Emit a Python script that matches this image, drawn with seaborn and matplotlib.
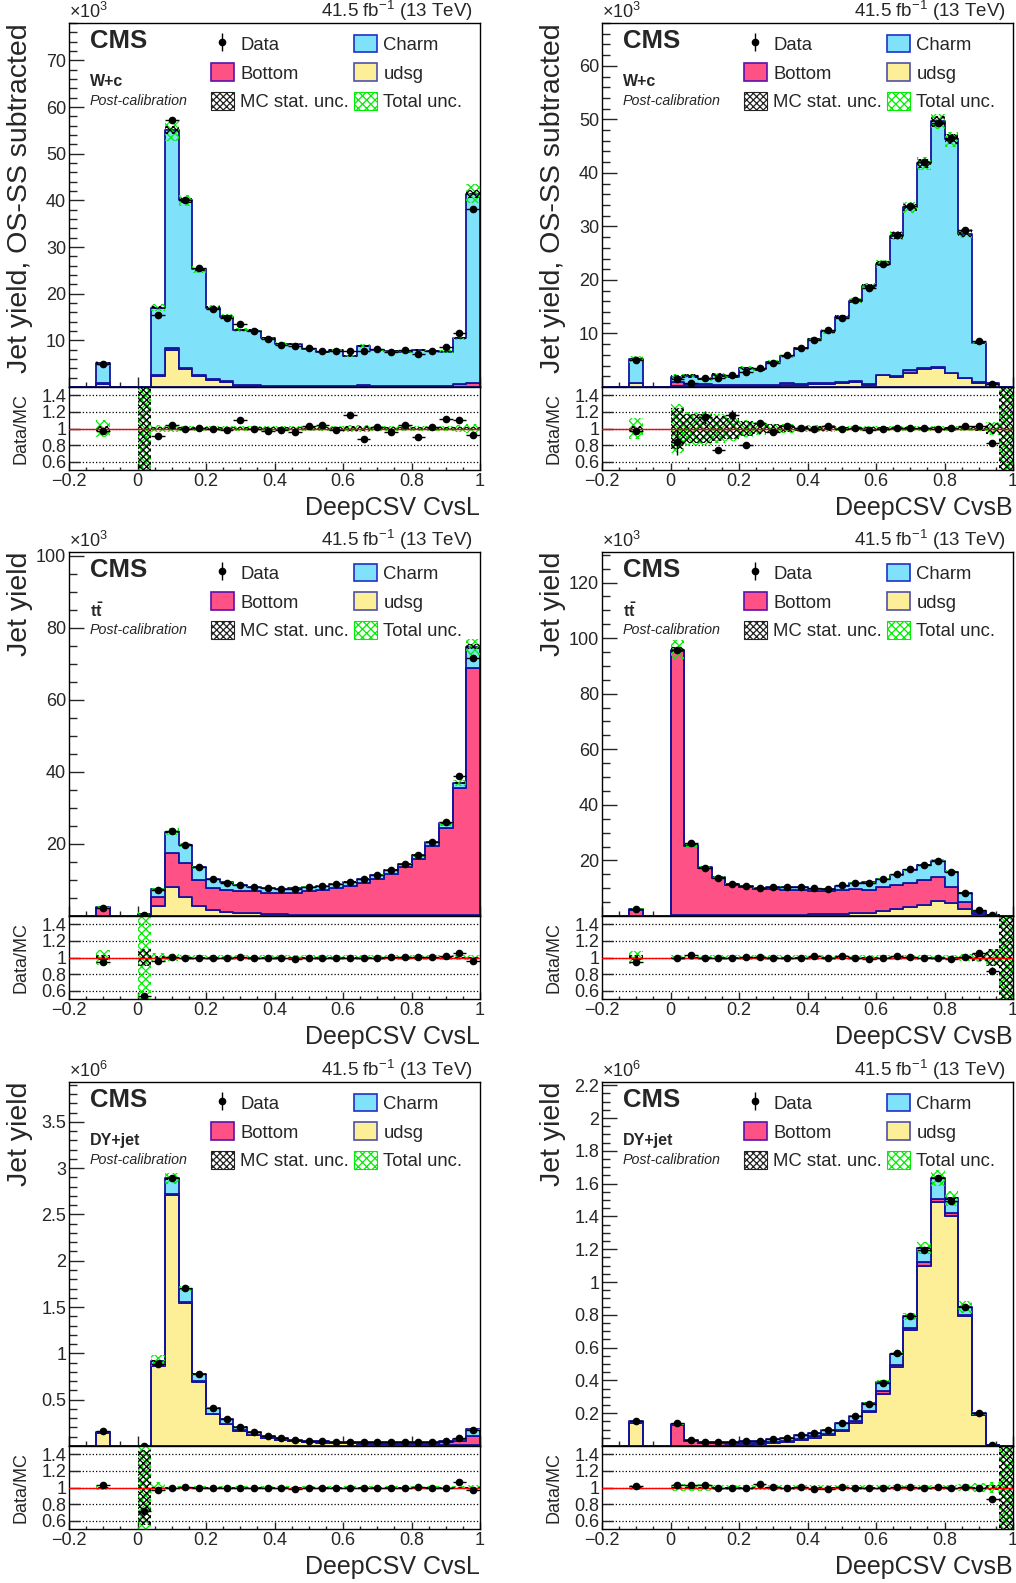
import numpy as np
import pandas as pd
import matplotlib
matplotlib.use("Agg")
import matplotlib.pyplot as plt
import seaborn as sns
from matplotlib.patches import Patch
from matplotlib.ticker import MultipleLocator, FixedLocator, FuncFormatter

sns.set_style("ticks")
plt.rcParams['font.family'] = ['Liberation Sans', 'DejaVu Sans']
plt.rcParams['mathtext.fontset'] = 'custom'
plt.rcParams['mathtext.rm'] = 'Liberation Sans'
plt.rcParams['mathtext.it'] = 'Liberation Sans:italic'
plt.rcParams['mathtext.bf'] = 'Liberation Sans:bold'
plt.rcParams['hatch.linewidth'] = 0.9
plt.rcParams['axes.linewidth'] = 1.0
plt.rcParams['axes.edgecolor'] = 'black'

# binning: 0.04 wide bins from -0.2 to 1, default-value bin at -0.1
bin_edges = [round(-0.2 + 0.04 * k, 2) for k in range(31)]
bin_centres = np.array([-0.10, 0.02, 0.06, 0.10, 0.14, 0.18, 0.22, 0.26, 0.30, 0.34, 0.38, 0.42, 0.46,
                        0.50, 0.54, 0.58, 0.62, 0.66, 0.70, 0.74, 0.78, 0.82, 0.86, 0.90, 0.94, 0.98])

# ---- W+c, CvsL (x1e3) ----
wc_l_charm = [4.3, 0, 14.5, 46.6, 35.9, 22.7, 15.3, 13.9, 11.8, 11.7, 10.2, 9.0, 8.9, 7.9, 7.2, 7.6, 6.3, 8.3, 7.8, 7.6, 7.4, 7.7, 7.4, 7.3, 9.7, 40.5]
wc_l_bottom = [0.1, 0, 0.1, 0.5, 0.2, 0.1, 0.1, 0.1, 0.1, 0.1, 0.1, 0.1, 0.1, 0.1, 0.1, 0.1, 0.1, 0.3, 0.1, 0.1, 0.1, 0.1, 0.2, 0.2, 0.6, 0.8]
wc_l_udsg = [0.7, 0, 2.4, 7.9, 3.9, 2.4, 1.6, 1.1, 0.3, 0.3, 0.2, 0.2, 0.2, 0.2, 0.2, 0.2, 0.2, 0.2, 0.1, 0.1, 0.1, 0.1, 0.1, 0.1, 0.1, 0.1]
wc_l_data = [4.95, 0, 15.5, 57.2, 40.0, 25.5, 16.8, 14.8, 13.4, 12.1, 10.2, 9.1, 8.8, 8.4, 7.8, 7.8, 7.7, 7.7, 8.1, 7.5, 7.9, 7.1, 7.8, 8.5, 11.5, 38.1]
wc_l_data_err = [0.03, 0, 0.02, 0.01, 0.01, 0.015, 0.015, 0.015, 0.02, 0.015, 0.015, 0.015, 0.015, 0.015, 0.015, 0.015, 0.015, 0.015, 0.015, 0.015, 0.015, 0.015, 0.015, 0.015, 0.015, 0.01]
wc_l_stat = [0.03, 1.0, 0.02, 0.015, 0.015, 0.015, 0.02, 0.02, 0.02, 0.02, 0.02, 0.02, 0.02, 0.02, 0.02, 0.02, 0.025, 0.025, 0.02, 0.02, 0.02, 0.02, 0.02, 0.02, 0.02, 0.02]
wc_l_total = [0.10, 1.0, 0.045, 0.04, 0.03, 0.03, 0.03, 0.03, 0.03, 0.03, 0.03, 0.03, 0.03, 0.03, 0.03, 0.03, 0.04, 0.04, 0.03, 0.03, 0.03, 0.03, 0.03, 0.03, 0.04, 0.05]

# ---- W+c, CvsB (x1e3) ----
wc_b_charm = [4.45, 0.8, 1.5, 1.0, 1.8, 1.6, 3.2, 3.0, 4.4, 5.1, 6.6, 8.1, 9.6, 12.1, 15.0, 18.4, 20.7, 26.3, 30.5, 38.3, 45.9, 43.6, 26.9, 7.4, 0.63, 0]
wc_b_bottom = [0.05, 0.9, 0.4, 0.3, 0.2, 0.1, 0.1, 0.1, 0.1, 0.3, 0.2, 0.2, 0.2, 0.2, 0.2, 0.1, 0.1, 0.1, 0.5, 0.2, 0.2, 0.1, 0.1, 0.1, 0.02, 0]
wc_b_udsg = [0.7, 0.1, 0.2, 0.2, 0.2, 0.2, 0.2, 0.2, 0.2, 0.4, 0.4, 0.6, 0.6, 0.8, 0.9, 0.4, 2.2, 1.9, 2.6, 3.3, 3.5, 2.6, 1.6, 0.8, 0.05, 0]
wc_b_data = [5.05, 1.5, 0.75, 1.7, 1.63, 2.2, 2.8, 3.5, 4.5, 5.95, 7.25, 8.85, 10.7, 12.95, 16.2, 18.5, 23.0, 28.4, 33.9, 42.0, 49.4, 46.5, 29.3, 8.6, 0.58, 0]
wc_b_data_err = [0.03, 0.18, 0.1, 0.07, 0.04, 0.06, 0.03, 0.02, 0.02, 0.015, 0.015, 0.01, 0.01, 0.01, 0.01, 0.01, 0.01, 0.01, 0.01, 0.01, 0.01, 0.01, 0.01, 0.015, 0.04, 0]
wc_b_stat = [0.03, 0.25, 0.18, 0.18, 0.15, 0.13, 0.09, 0.07, 0.05, 0.04, 0.03, 0.03, 0.025, 0.02, 0.02, 0.02, 0.02, 0.02, 0.02, 0.02, 0.02, 0.02, 0.02, 0.025, 0.07, 1.0]
wc_b_total = [0.13, 0.30, 0.20, 0.20, 0.17, 0.15, 0.10, 0.08, 0.06, 0.05, 0.04, 0.04, 0.04, 0.03, 0.03, 0.03, 0.03, 0.03, 0.03, 0.03, 0.03, 0.03, 0.03, 0.035, 0.08, 1.0]

# ---- ttbar, CvsL (x1e3) ----
tt_l_charm = [0.3, 0.1, 2.0, 6.0, 5.1, 3.5, 2.5, 2.1, 1.7, 1.3, 1.2, 1.1, 1.2, 1.2, 1.1, 1.1, 1.2, 1.2, 1.1, 1.2, 0.9, 1.0, 1.1, 1.2, 1.4, 5.9]
tt_l_bottom = [2.1, 0.3, 2.6, 9.3, 9.2, 7.2, 6.0, 6.0, 6.0, 6.1, 5.95, 5.85, 6.1, 6.45, 6.9, 7.45, 8.1, 8.9, 10.1, 11.45, 13.35, 15.75, 19.15, 24.35, 35.35, 68.6]
tt_l_udsg = [0.05, 0.1, 2.8, 8.1, 5.4, 2.8, 1.7, 1.2, 0.9, 0.7, 0.55, 0.45, 0.4, 0.35, 0.3, 0.25, 0.2, 0.2, 0.2, 0.15, 0.15, 0.15, 0.15, 0.15, 0.15, 0.2]
tt_l_data = [2.33, 0.27, 7.1, 23.6, 19.6, 13.5, 10.2, 9.2, 8.7, 8.1, 7.7, 7.4, 7.6, 8.0, 8.3, 8.8, 9.5, 10.3, 11.4, 12.9, 14.5, 17.0, 20.5, 26.2, 38.8, 71.7]
tt_l_stat = [0.03, 0.1, 0.015, 0.01, 0.01, 0.01, 0.01, 0.01, 0.01, 0.01, 0.01, 0.01, 0.01, 0.01, 0.01, 0.01, 0.01, 0.01, 0.01, 0.01, 0.01, 0.01, 0.01, 0.01, 0.01, 0.01]
tt_l_total = [0.09, 1.0, 0.06, 0.04, 0.03, 0.025, 0.025, 0.025, 0.025, 0.025, 0.025, 0.025, 0.025, 0.025, 0.025, 0.025, 0.025, 0.025, 0.025, 0.025, 0.025, 0.025, 0.025, 0.025, 0.025, 0.03]

# ---- ttbar, CvsB (x1e3) ----
tt_b_charm = [0.3, 0.5, 0.3, 0.4, 0.3, 0.3, 0.3, 0.4, 0.6, 0.9, 1.1, 0.9, 0.9, 1.7, 2.2, 2.6, 2.9, 3.6, 4.7, 5.3, 6.0, 5.6, 3.4, 0.6, 0.2, 0]
tt_b_bottom = [2.2, 95.0, 25.1, 17.0, 13.4, 11.1, 10.2, 9.5, 9.45, 9.2, 8.8, 8.3, 8.2, 8.4, 8.8, 8.6, 8.5, 8.8, 8.8, 9.0, 8.6, 5.7, 2.4, 0.6, 0.1, 0]
tt_b_udsg = [0.1, 0.3, 0.2, 0.2, 0.2, 0.2, 0.2, 0.2, 0.25, 0.3, 0.4, 0.6, 0.7, 0.8, 0.9, 0.9, 1.9, 2.5, 3.1, 4.1, 5.3, 4.7, 2.5, 0.7, 0.2, 0]
tt_b_data = [2.45, 95.8, 26.3, 17.4, 13.8, 11.6, 10.8, 10.2, 10.3, 10.4, 10.3, 9.95, 9.8, 11.1, 11.8, 11.9, 13.3, 15.1, 16.8, 18.2, 19.7, 15.8, 8.4, 2.0, 0.42, 0]
tt_b_stat = [0.03, 0.01, 0.01, 0.01, 0.01, 0.01, 0.01, 0.01, 0.01, 0.01, 0.01, 0.01, 0.01, 0.01, 0.01, 0.01, 0.01, 0.01, 0.01, 0.01, 0.01, 0.01, 0.02, 0.04, 0.1, 1.0]
tt_b_total = [0.08, 0.035, 0.025, 0.025, 0.025, 0.025, 0.025, 0.025, 0.025, 0.025, 0.025, 0.025, 0.025, 0.025, 0.025, 0.025, 0.025, 0.025, 0.025, 0.025, 0.025, 0.03, 0.04, 0.06, 0.1, 1.0]

# ---- DY+jet, CvsL (x1e6) ----
dy_l_charm = [0.01, 0.0005, 0.05, 0.17, 0.15, 0.08, 0.06, 0.05, 0.04, 0.03, 0.02, 0.018, 0.015, 0.013, 0.011, 0.01, 0.009, 0.009, 0.009, 0.009, 0.01, 0.011, 0.013, 0.015, 0.022, 0.07]
dy_l_bottom = [0.002, 0.0005, 0.01, 0.01, 0.01, 0.005, 0.005, 0.005, 0.005, 0.005, 0.005, 0.004, 0.004, 0.004, 0.004, 0.004, 0.005, 0.005, 0.006, 0.007, 0.009, 0.011, 0.016, 0.024, 0.04, 0.1]
dy_l_udsg = [0.14, 0.004, 0.86, 2.71, 1.54, 0.695, 0.345, 0.235, 0.165, 0.115, 0.085, 0.065, 0.05, 0.041, 0.035, 0.031, 0.029, 0.026, 0.025, 0.024, 0.022, 0.021, 0.018, 0.016, 0.015, 0.01]
dy_l_data = [0.157, 0.0036, 0.89, 2.89, 1.71, 0.78, 0.406, 0.287, 0.21, 0.149, 0.11, 0.086, 0.068, 0.058, 0.05, 0.0445, 0.043, 0.04, 0.04, 0.0396, 0.0406, 0.0435, 0.0465, 0.055, 0.082, 0.175]
dy_l_stat = [0.01, 0.45, 0.01, 0.005, 0.005, 0.005, 0.005, 0.005, 0.005, 0.005, 0.005, 0.005, 0.005, 0.005, 0.005, 0.005, 0.005, 0.005, 0.005, 0.005, 0.005, 0.005, 0.005, 0.005, 0.01, 0.01]
dy_l_total = [0.03, 1.0, 0.07, 0.02, 0.015, 0.015, 0.015, 0.015, 0.015, 0.015, 0.015, 0.015, 0.015, 0.015, 0.015, 0.015, 0.015, 0.015, 0.015, 0.015, 0.015, 0.015, 0.015, 0.015, 0.02, 0.03]

# ---- DY+jet, CvsB (x1e6) ----
dy_b_charm = [0.007, 0.004, 0.009, 0.006, 0.007, 0.008, 0.010, 0.011, 0.014, 0.017, 0.020, 0.021, 0.024, 0.038, 0.035, 0.045, 0.055, 0.065, 0.070, 0.090, 0.130, 0.090, 0.048, 0.007, 0.001, 0]
dy_b_bottom = [0.003, 0.129, 0.026, 0.018, 0.014, 0.012, 0.010, 0.009, 0.008, 0.008, 0.010, 0.009, 0.008, 0.007, 0.012, 0.010, 0.015, 0.015, 0.015, 0.022, 0.015, 0.020, 0.007, 0.002, 0.0005, 0]
dy_b_udsg = [0.14, 0.001, 0.002, 0.002, 0.003, 0.005, 0.008, 0.012, 0.018, 0.025, 0.035, 0.049, 0.067, 0.093, 0.138, 0.205, 0.32, 0.48, 0.705, 1.098, 1.49, 1.40, 0.793, 0.19, 0.0045, 0]
dy_b_data = [0.153, 0.138, 0.038, 0.0268, 0.0238, 0.025, 0.028, 0.0333, 0.0404, 0.0495, 0.0655, 0.0775, 0.097, 0.139, 0.183, 0.257, 0.386, 0.566, 0.792, 1.198, 1.636, 1.495, 0.85, 0.199, 0.0052, 0]
dy_b_stat = [0.01, 0.01, 0.01, 0.01, 0.01, 0.005, 0.005, 0.005, 0.005, 0.005, 0.005, 0.005, 0.005, 0.005, 0.005, 0.005, 0.005, 0.005, 0.005, 0.005, 0.005, 0.005, 0.005, 0.01, 0.03, 1.0]
dy_b_total = [0.03, 0.04, 0.04, 0.04, 0.035, 0.025, 0.025, 0.025, 0.025, 0.025, 0.025, 0.025, 0.025, 0.025, 0.025, 0.025, 0.025, 0.025, 0.025, 0.03, 0.03, 0.03, 0.045, 0.06, 0.07, 1.0]

flav_order = ['Charm', 'Bottom', 'udsg']   # first one ends on top of the stack
flav_colours = {'Charm': '#80e1fa', 'Bottom': '#fe5286', 'udsg': '#fdee98'}
outline = '#14149c'
green = '#00ee00'
green_hatch = 'xxxx'
black_hatch = 'xxxxx'

panels = [
    dict(charm=wc_l_charm, bottom=wc_l_bottom, udsg=wc_l_udsg, data=wc_l_data, err=wc_l_data_err,
         stat=wc_l_stat, total=wc_l_total, proc='W+c', var='DeepCSV CvsL', exp=3, scale=1e3,
         ymax=78, major=10, minor=2, ylabel='Jet yield, OS-SS subtracted'),
    dict(charm=wc_b_charm, bottom=wc_b_bottom, udsg=wc_b_udsg, data=wc_b_data, err=wc_b_data_err,
         stat=wc_b_stat, total=wc_b_total, proc='W+c', var='DeepCSV CvsB', exp=3, scale=1e3,
         ymax=68, major=10, minor=2, ylabel='Jet yield, OS-SS subtracted'),
    dict(charm=tt_l_charm, bottom=tt_l_bottom, udsg=tt_l_udsg, data=tt_l_data, err=None,
         stat=tt_l_stat, total=tt_l_total, proc=r'$\mathbf{t\bar{t}}$', var='DeepCSV CvsL', exp=3, scale=1e3,
         ymax=101, major=20, minor=5, ylabel='Jet yield'),
    dict(charm=tt_b_charm, bottom=tt_b_bottom, udsg=tt_b_udsg, data=tt_b_data, err=None,
         stat=tt_b_stat, total=tt_b_total, proc=r'$\mathbf{t\bar{t}}$', var='DeepCSV CvsB', exp=3, scale=1e3,
         ymax=131, major=20, minor=5, ylabel='Jet yield'),
    dict(charm=dy_l_charm, bottom=dy_l_bottom, udsg=dy_l_udsg, data=dy_l_data, err=None,
         stat=dy_l_stat, total=dy_l_total, proc='DY+jet', var='DeepCSV CvsL', exp=6, scale=1e6,
         ymax=3.93, major=0.5, minor=0.1, ylabel='Jet yield'),
    dict(charm=dy_b_charm, bottom=dy_b_bottom, udsg=dy_b_udsg, data=dy_b_data, err=None,
         stat=dy_b_stat, total=dy_b_total, proc='DY+jet', var='DeepCSV CvsB', exp=6, scale=1e6,
         ymax=2.22, major=0.2, minor=0.05, ylabel='Jet yield'),
]

W, H = 1016, 1583
col_left = [69, 602]
row_top = [23, 552, 1082]
ax_w, main_h, ratio_h = 411, 364, 83


def rect(x, top, w, h):
    return [x / W, 1 - (top + h) / H, w / W, h / H]


def g_fmt(v, pos=None):
    if abs(v) < 1e-9:
        return '0'
    return f'{v:g}'.replace('-', '\u2212')


def g_fmt_nozero(v, pos=None):
    return '' if abs(v) < 1e-9 else g_fmt(v)


fig = plt.figure(figsize=(W / 100, H / 100), dpi=100)

for i, p in enumerate(panels):
    r, c = divmod(i, 2)
    ax = fig.add_axes(rect(col_left[c], row_top[r], ax_w, main_h))
    axr = fig.add_axes(rect(col_left[c], row_top[r] + main_h, ax_w, ratio_h))

    charm = np.array(p['charm'], float)
    bottom = np.array(p['bottom'], float)
    udsg = np.array(p['udsg'], float)
    data = np.array(p['data'], float)
    stat = np.array(p['stat'], float)
    total = np.array(p['total'], float)
    mc = charm + bottom + udsg
    if p['err'] is None:
        derr = np.sqrt(data * p['scale']) / p['scale']
    else:
        derr = np.array(p['err']) * data

    long = pd.DataFrame({
        'score': np.tile(bin_centres, 3),
        'jets': np.concatenate([charm, bottom, udsg]),
        'flavour': np.repeat(flav_order, len(bin_centres)),
    })
    sns.histplot(data=long, x='score', weights='jets', hue='flavour', hue_order=flav_order,
                 palette=flav_colours, multiple='stack', element='step', fill=True,
                 bins=bin_edges, alpha=1, edgecolor=outline, linewidth=1.3,
                 legend=False, ax=ax, zorder=1)

    # uncertainty bands on the MC sum
    ax.bar(bin_centres, 2 * total * mc, bottom=mc - total * mc, width=0.04, facecolor='none',
           edgecolor=green, hatch=green_hatch, linewidth=0, zorder=3)
    ax.bar(bin_centres, 2 * stat * mc, bottom=mc - stat * mc, width=0.04, facecolor='none',
           edgecolor='black', hatch=black_hatch, linewidth=0, zorder=3)

    has = data > 0
    ax.errorbar(bin_centres[has], data[has], xerr=0.02, yerr=derr[has], fmt='o', ms=4.5,
                color='black', elinewidth=1, capsize=0, zorder=5)

    # ratio panel
    axr.bar(bin_centres, 2 * total, bottom=1 - total, width=0.04, facecolor='none',
            edgecolor=green, hatch=green_hatch, linewidth=0, zorder=2)
    axr.bar(bin_centres, 2 * stat, bottom=1 - stat, width=0.04, facecolor='none',
            edgecolor='black', hatch=black_hatch, linewidth=0, zorder=2)
    axr.axhline(1, color='red', lw=1, zorder=4)
    ok = has & (mc > 0)
    axr.errorbar(bin_centres[ok], data[ok] / mc[ok], xerr=0.02, yerr=derr[ok] / mc[ok], fmt='o',
                 ms=4.5, color='black', elinewidth=1, capsize=0, zorder=5)

    # axes cosmetics
    for a in (ax, axr):
        a.set_xlim(-0.2, 1.0)
        a.xaxis.set_major_locator(MultipleLocator(0.2))
        a.xaxis.set_minor_locator(MultipleLocator(0.05))
        a.tick_params(which='both', direction='in', top=False, right=False, labelsize=13,
                      pad=2, width=1)
        for s in a.spines.values():
            s.set_visible(True)
            s.set_linewidth(1.0)
            s.set_color('black')

    ax.set_ylim(0, p['ymax'])
    ax.yaxis.set_major_locator(MultipleLocator(p['major']))
    ax.yaxis.set_minor_locator(MultipleLocator(p['minor']))
    ax.yaxis.set_major_formatter(FuncFormatter(g_fmt_nozero))
    ax.tick_params(axis='x', labelbottom=False)
    ax.tick_params(axis='x', which='major', length=7)
    ax.tick_params(axis='x', which='minor', length=3.5)
    ax.tick_params(axis='y', which='major', length=10.5)
    ax.tick_params(axis='y', which='minor', length=5.5)
    ax.set_xlabel('')
    ax.set_ylabel(p['ylabel'], fontsize=20.5, loc='top', va='center')
    ax.yaxis.set_label_coords(-0.119, 1.0)

    axr.set_ylim(0.5, 1.5)
    axr.yaxis.set_major_locator(FixedLocator([0.6, 0.8, 1.0, 1.2, 1.4]))
    axr.yaxis.set_major_formatter(FuncFormatter(g_fmt))
    axr.xaxis.set_major_formatter(FuncFormatter(g_fmt))
    axr.tick_params(axis='x', which='major', length=5)
    axr.tick_params(axis='x', which='minor', length=2.5)
    axr.tick_params(axis='y', which='major', length=8)
    axr.grid(axis='y', ls=':', color='black', lw=0.9)
    axr.set_ylabel('Data/MC', fontsize=13, va='center')
    axr.yaxis.set_label_coords(-0.117, 0.5)
    axr.set_xlabel(p['var'], fontsize=18, loc='right')
    axr.xaxis.set_label_coords(1.0, -0.31)

    # annotations
    ax.text(0.051, 0.95, 'CMS', fontweight='bold', fontsize=18.5, va='center', transform=ax.transAxes)
    ax.text(0.051, 0.84, p['proc'], fontweight='bold', fontsize=11.5, va='center', transform=ax.transAxes)
    ax.text(0.051, 0.786, 'Post-calibration', style='italic', fontsize=10.3, va='center',
            transform=ax.transAxes)
    ax.text(0.0, 1.004, '×10$^{%d}$' % p['exp'], fontsize=13, va='bottom', ha='left',
            transform=ax.transAxes)
    ax.text(0.983, 1.0, '41.5 fb$^{-1}$ (13 TeV)', fontsize=13.5, va='bottom', ha='right',
            transform=ax.transAxes)

    # legend
    h_data = ax.errorbar([np.nan], [np.nan], yerr=[1.0], fmt='o', ms=4.5, color='black',
                         elinewidth=1, capsize=0)
    handles = [
        h_data,
        Patch(facecolor=flav_colours['Bottom'], edgecolor='#5a10b0', lw=1.2),
        Patch(facecolor='white', edgecolor='#222222', hatch=black_hatch, lw=0.8),
        Patch(facecolor=flav_colours['Charm'], edgecolor='#2030c8', lw=1.2),
        Patch(facecolor=flav_colours['udsg'], edgecolor='#5050a8', lw=1.2),
        Patch(facecolor='white', edgecolor=green, hatch=green_hatch, lw=0.8),
    ]
    labels = ['Data', 'Bottom', 'MC stat. unc.', 'Charm', 'udsg', 'Total unc.']
    ax.legend(handles, labels, ncol=2, loc='upper left', bbox_to_anchor=(0.3455, 0.968),
              frameon=False, fontsize=13.3, handlelength=1.24, handleheight=1.1,
              handletextpad=0.33, labelspacing=0.52, columnspacing=0.3, borderpad=0,
              borderaxespad=0)

fig.savefig('out.png', dpi=100)
